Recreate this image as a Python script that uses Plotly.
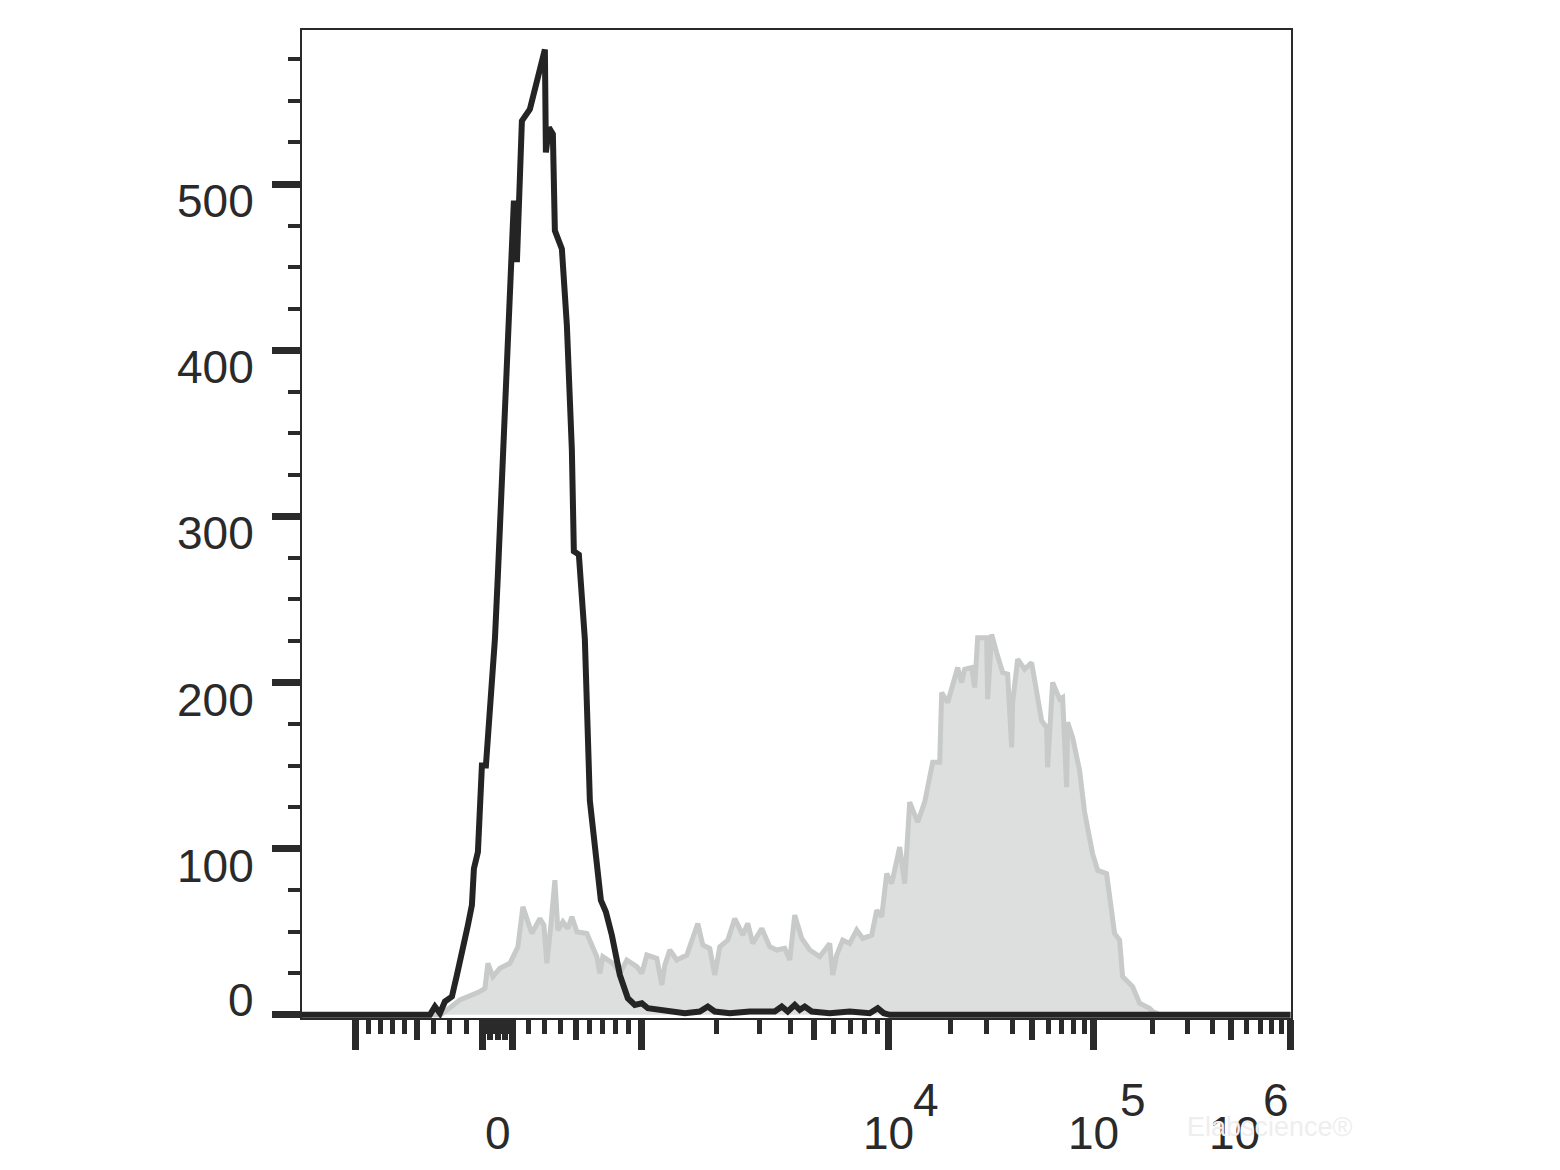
import numpy as np
import plotly.graph_objects as go

# ---------------- data (x in display channels of the biexponential axis, y = count) -------------
black_channel = [0, 128, 133, 138, 143, 150, 155, 161, 166, 170, 172, 176, 178, 180, 184, 186, 189, 193,
                 196, 200, 205, 210, 212, 215, 220, 228, 233, 238, 243, 244, 247, 251, 253, 260, 265, 270,
                 272, 277, 283, 288, 294, 299, 304, 310, 318, 326, 333, 340, 346, 358, 373, 383, 398, 406,
                 413, 428, 448, 463, 473, 480, 486, 493, 498, 503, 510, 528, 548, 568, 576, 582, 588, 989]
black_count = [0, 0, 5, 1, 8, 11, 24, 39, 54, 66, 88, 98, 135, 150, 150, 165, 193, 226,
               265, 322, 397, 453, 490, 453, 538, 545, 557, 569, 581, 519, 534, 530, 472, 461, 415, 340,
               279, 277, 226, 129, 93, 69, 62, 48, 24, 10, 6, 7, 4, 3, 2, 1, 2, 5,
               2, 1, 2, 2, 2, 5, 2, 6, 3, 5, 2, 1, 2, 1, 4, 1, 0, 0]

gray_channel = [0, 138, 141, 158, 178, 183, 186, 191, 198, 208, 216, 221, 230, 238, 242, 245, 249, 253,
                256, 261, 266, 270, 275, 285, 295, 298, 301, 311, 318, 325, 335, 340, 345, 355, 360, 363,
                368, 375, 385, 396, 401, 408, 413, 418, 426, 433, 441, 446, 451, 460, 468, 475, 483, 488,
                493, 500, 508, 518, 528, 531, 535, 541, 548, 555, 561, 570, 575, 580, 585, 590, 598, 603,
                608, 616, 623, 631, 638, 640, 646, 656, 660, 663, 670, 673, 676, 685, 686, 690, 695, 701,
                706, 710, 711, 716, 723, 730, 736, 740, 745, 746, 751, 758, 761, 765, 766, 771, 778, 783,
                791, 796, 805, 813, 818, 821, 831, 838, 848, 851, 858, 989]
gray_count = [0, 0, 1, 9, 14, 16, 31, 23, 28, 31, 41, 65, 49, 58, 54, 31, 54, 81,
              51, 56, 52, 59, 50, 49, 35, 25, 35, 31, 25, 33, 29, 25, 36, 34, 18, 30,
              39, 33, 36, 55, 42, 40, 24, 41, 45, 58, 48, 55, 43, 52, 41, 39, 40, 33,
              60, 46, 39, 35, 43, 24, 36, 45, 43, 51, 46, 48, 63, 59, 85, 79, 101, 79,
              128, 116, 128, 152, 152, 194, 188, 209, 200, 208, 209, 197, 227, 227, 190, 229, 218, 206,
              205, 161, 188, 214, 208, 212, 191, 177, 173, 149, 200, 190, 191, 137, 176, 167, 147, 122,
              97, 87, 85, 49, 45, 23, 17, 7, 4, 2, 0, 0]

y_tick_values = [0, 100, 200, 300, 400, 500]
y_tick_labels = ["0", "100", "200", "300", "400", "500"]
y_minor_values = [v for v in range(25, 600, 25) if v % 100 != 0]

x_major_values = [-1000, -100, 100, 1000, 1e4, 1e5, 1e6]
x_medium_values = [-500, -50, 0, 50, 500, 5e3, 5e4, 5e5]
x_minor_values = ([-900, -800, -700, -600, -400, -300, -200]
                  + [-90, -80, -70, -60, -40, -30, -20, -10]
                  + [10, 20, 30, 40, 60, 70, 80, 90]
                  + [200, 300, 400, 600, 700, 800, 900]
                  + [k * d for d in (1e3, 1e4, 1e5) for k in (2, 3, 4, 6, 7, 8, 9)])
x_label_values = [0, 1e4, 1e5, 1e6]
x_label_base = ["0", "10", "10", "10"]
x_label_exp = ["", "4", "5", "6"]

# ---------------- biexponential display transform (value -> display channel) ----------------
LIN_V = [-1000, -500, -100, 0, 100, 500, 1000]
LIN_C = [54, 115, 181, 196, 211, 274, 340]
DEC_E = [3, 4, 5, 6]
DEC_C = [340, 587, 792, 989]


def to_channel(vals):
    v = np.asarray(vals, dtype=float)
    out = np.interp(v, LIN_V, LIN_C)
    big = v > 1000
    out[big] = np.interp(np.log10(v[big]), DEC_E, DEC_C)
    return out.tolist()


X_RANGE = [0, 989.5]
Y_RANGE = [-1.9, 592.7]
INK = "#2a2a2a"
FONT = "Liberation Sans, Arial, sans-serif"

fig = go.Figure()
fig.add_trace(go.Scatter(x=gray_channel, y=gray_count, mode="lines", fill="tozeroy",
                         line=dict(color="rgb(200,201,201)", width=5),
                         fillcolor="rgb(221,222,222)", hoverinfo="skip", showlegend=False))
fig.add_trace(go.Scatter(x=black_channel, y=black_count, mode="lines",
                         line=dict(color="#242424", width=6), hoverinfo="skip", showlegend=False))
# invisible trace so the medium-tick overlay axis is drawn
fig.add_trace(go.Scatter(x=[None], y=[None], xaxis="x2", yaxis="y", showlegend=False, hoverinfo="skip"))

# the page body adds an 8 px offset, so margins are shifted to keep the plot box in place
fig.update_layout(
    width=1560, height=1170,
    margin=dict(l=294, r=277, t=22, b=160),
    paper_bgcolor="white", plot_bgcolor="white",
    showlegend=False,
    xaxis=dict(range=X_RANGE, showgrid=False, zeroline=False,
               showline=True, linecolor=INK, linewidth=2, mirror=True,
               tickmode="array", tickvals=to_channel(x_major_values), ticktext=[""] * len(x_major_values),
               ticks="outside", ticklen=30, tickwidth=7, tickcolor=INK, showticklabels=False,
               minor=dict(tickmode="array", tickvals=to_channel(x_minor_values), ticks="outside",
                          ticklen=14, tickwidth=5, tickcolor=INK, showgrid=False)),
    xaxis2=dict(range=X_RANGE, overlaying="x", anchor="y", side="bottom", showgrid=False,
                zeroline=False, showline=False,
                tickmode="array", tickvals=to_channel(x_medium_values),
                ticks="outside", ticklen=21, tickwidth=6, tickcolor=INK, showticklabels=False),
    yaxis=dict(range=Y_RANGE, showgrid=False, zeroline=False,
               showline=True, linecolor=INK, linewidth=2, mirror=True,
               tickmode="array", tickvals=y_tick_values, ticks="outside", ticklen=28, tickwidth=7,
               tickcolor=INK, showticklabels=False,
               minor=dict(tickmode="array", tickvals=y_minor_values, ticks="outside",
                          ticklen=12, tickwidth=4, tickcolor=INK, showgrid=False)),
)

annotations = []
for val, lab in zip(y_tick_values, y_tick_labels):
    annotations.append(dict(xref="paper", yref="y", x=0, y=val, text=lab, showarrow=False,
                            xanchor="right", yanchor="middle", xshift=-46,
                            yshift=(15 if val == 0 else -17),
                            font=dict(family=FONT, size=46, color=INK)))

label_pos = to_channel(x_label_values)
base_shift = [0, 0, 0, -56]
exp_shift = [0, 37, 39, -15]
for pos, base, exp_, bs, es in zip(label_pos, x_label_base, x_label_exp, base_shift, exp_shift):
    annotations.append(dict(xref="x", yref="paper", x=pos, y=0, text=base, showarrow=False,
                            xanchor="center", yanchor="middle", xshift=bs, yshift=-115,
                            font=dict(family=FONT, size=46, color=INK)))
    if exp_:
        annotations.append(dict(xref="x", yref="paper", x=pos, y=0, text=exp_, showarrow=False,
                                xanchor="center", yanchor="middle", xshift=es, yshift=-82,
                                font=dict(family=FONT, size=46, color=INK)))

annotations.append(dict(xref="paper", yref="paper", x=0.979, y=-0.11, text="Elabscience®",
                        showarrow=False, xanchor="center", yanchor="middle",
                        font=dict(family=FONT, size=27, color="rgb(238,238,238)")))
fig.update_layout(annotations=annotations)

fig.write_html("out.html")
